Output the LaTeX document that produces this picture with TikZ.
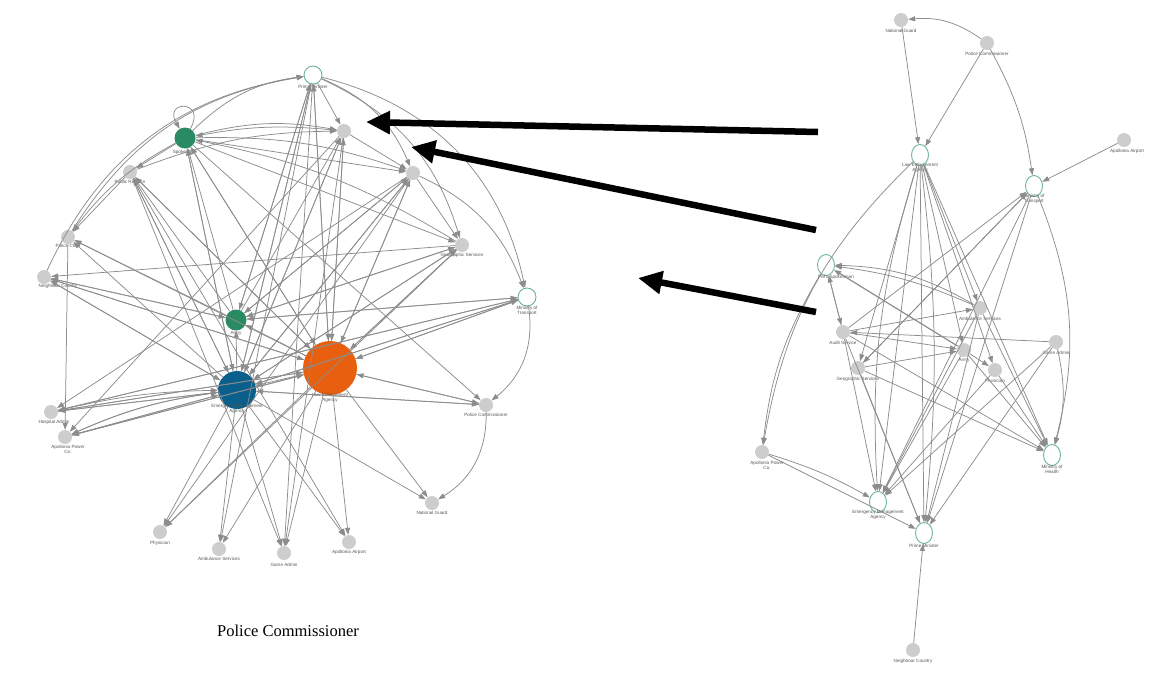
\documentclass[tikz,border=0pt]{standalone}
\usepackage{fontspec}
\setmainfont{Liberation Serif}
\newfontfamily\lblfont{Liberation Sans}
\usetikzlibrary{arrows.meta,shapes.geometric}
\definecolor{nodegray}{HTML}{CDCDCD}
\definecolor{edgegray}{HTML}{8C8C8C}
\definecolor{ringgreen}{HTML}{6DB49B}
\definecolor{hubgreen}{HTML}{2A8A63}
\definecolor{huborange}{HTML}{E8600F}
\definecolor{hubblue}{HTML}{0B5F8C}
\definecolor{labelgray}{HTML}{555555}
\begin{document}
\begin{tikzpicture}[x=1pt,y=-1pt,
  lbl/.style={font=\lblfont\fontsize{4.6}{5}\selectfont,text=labelgray,inner sep=0.6pt,align=center},
  gn/.style={circle,fill=nodegray,draw=none,minimum size=14pt,inner sep=0pt},
  wn/.style={circle,draw=ringgreen,fill=white,line width=0.9pt,minimum size=18pt,inner sep=0pt},
  we/.style={ellipse,draw=ringgreen,fill=white,line width=0.9pt,minimum width=17pt,minimum height=21pt,inner sep=0pt},
  e/.style={draw=edgegray,line width=0.75pt,-{Triangle[length=7pt,width=5pt,fill=edgegray]}},
  bigarrow/.style={draw=black,line width=6.5pt,-{Triangle[length=24pt,width=22pt]}},
  title/.style={font=\fontsize{16.5}{19}\selectfont,text=black}]
\useasboundingbox (0,0) rectangle (1154,673);

% ---------------- left graph nodes ----------------
\node[wn] (pm) at (313,75) {};
\node[lbl,anchor=north] (pmL) at (313,84) {Prime Minister};
\node[circle,fill=hubgreen,minimum size=21pt,inner sep=0pt] (ga) at (185,138) {};
\node[lbl,anchor=north] (gaL) at (185,149) {Spokesman};
\node[gn] (c3) at (344,131) {};
\node[gn] (rs) at (130,172) {};
\node[lbl,anchor=north] (rsL) at (130,179) {Public Relation};
\node[gn] (c5) at (413,173) {};
\node[gn] (gs) at (462,245) {};
\node[lbl,anchor=north] (gsL) at (462,252) {Geographic Services};
\node[wn] (mt) at (527,297) {};
\node[lbl,anchor=north] (mtL) at (527,305) {Ministry of\\Transport};
\node[gn] (pc1) at (68,237) {};
\node[lbl,anchor=north] (pc1L) at (68,243) {Police Chief};
\node[gn] (nc) at (44,277) {};
\node[lbl,anchor=north] (ncL) at (58,283) {Neighbour Country};
\node[circle,fill=hubgreen,minimum size=21pt,inner sep=0pt] (ar) at (236,320) {};
\node[lbl,anchor=north] (arL) at (236,331) {Army};
\node[circle,fill=huborange,minimum size=54pt,inner sep=0pt] (le) at (330,368) {};
\node[lbl,anchor=north] (leL) at (330,392) {Law Enforcement\\Agency};
\node[circle,fill=hubblue,minimum size=38pt,inner sep=0pt] (em) at (237,390) {};
\node[lbl,anchor=north] (emL) at (237,404) {Emergency Management\\Agency};
\node[gn] (pco) at (486,405) {};
\node[lbl,anchor=north] (pcoL) at (486,412) {Police Commissioner};
\node[gn] (ha) at (51,412) {};
\node[lbl,anchor=north] (haL) at (54,419) {Hospital Admin};
\node[gn] (ap) at (65,437) {};
\node[lbl,anchor=north] (apL) at (68,444) {Apollonia Power\\Co.};
\node[gn] (ng) at (432,503) {};
\node[lbl,anchor=north] (ngL) at (432,510) {National Guard};
\node[gn] (ph) at (160,532) {};
\node[lbl,anchor=north] (phL) at (160,540) {Physician};
\node[gn] (as) at (219,549) {};
\node[lbl,anchor=north] (asL) at (219,556) {Ambulance Services};
\node[gn] (gm) at (284,553) {};
\node[lbl,anchor=north] (gmL) at (284,562) {Game Admin};
\node[gn] (aa) at (349,542) {};
\node[lbl,anchor=north] (aaL) at (349,549) {Apollonia Airport};

% ---------------- left graph edges ----------------
\foreach \a/\b in {le/pm,le/ga,le/c3,le/rs,le/c5,le/gs,le/mt,le/pc1,le/nc,le/ar,le/em,le/pco,le/ha,le/ap,le/ng,le/ph,le/as,le/gm,le/aa,
  em/pm,em/ga,em/c3,em/rs,em/c5,em/gs,em/mt,em/pc1,em/nc,em/ar,em/pco,em/ha,em/ap,em/ng,em/ph,em/as,em/gm,em/aa,
  ar/pm,ar/ga,ar/c3,ar/c5,ar/gs,ar/mt,ar/nc,ar/pc1,ar/rs,
  ga/c5,ga/rs,ga/le,ga/em,ga/gs,ga/pco,
  pm/c3,pm/le,pm/em,pm/ar,pm/as,pm/gm,
  nc/le,nc/em,nc/ar,
  rs/pc1,rs/le,rs/em,rs/gm,rs/aa,
  mt/le,mt/em,mt/ar,mt/ha,
  gs/le,gs/em,gs/ar,gs/nc,gs/ph,
  c5/gs,c5/le,c5/em,c5/ar,c5/ha,c5/ph,
  c3/c5,c3/le,c3/em,c3/gm,c3/ap,
  pco/le,pco/em,ha/le,ha/em,ha/mt,ap/em,ap/le,pc1/ap}
  \draw[e] (\a) -- (\b);
\foreach \a/\b/\c in {ga/pm/-18,nc/pm/-28,pc1/pm/-24,ga/c3/-12,c5/mt/-22,pm/c5/-22,pm/mt/-32,pm/gs/-24,
  mt/pco/-30,pco/ng/-30,rs/c3/-10,c3/ga/8,gs/ga/10,ga/pc1/12,ha/em/-6,ap/em/-8,em/ap/8,ga/c5/-10}
  \draw[e] (\a) to[bend right=\c] (\b);
\draw[e] (ga) to[out=60,in=120,looseness=8] (ga);

% ---------------- right graph nodes ----------------
\node[gn] (ng2) at (901,20) {};
\node[lbl,anchor=north] (ng2L) at (901,28) {National Guard};
\node[gn] (pc2) at (987,43) {};
\node[lbl,anchor=north] (pc2L) at (987,51) {Police Commissioner};
\node[we] (le2) at (920,155) {};
\node[lbl,anchor=north] (le2L) at (920,162) {Law Enforcement\\Agency};
\node[gn] (aa2) at (1124,140) {};
\node[lbl,anchor=north] (aa2L) at (1127,148) {Apollonia Airport};
\node[we] (mt2) at (1034,186) {};
\node[lbl,anchor=north] (mt2L) at (1034,193) {Ministry of\\Transport};
\node[we] (pms) at (826,265) {};
\node[lbl,anchor=north] (pmsL) at (836,274) {PM's Spokesman};
\node[gn] (as2) at (980,308) {};
\node[lbl,anchor=north] (as2L) at (980,316) {Ambulance Services};
\node[gn] (aud) at (843,332) {};
\node[lbl,anchor=north] (audL) at (843,340) {Audit Service};
\node[gn] (army2) at (964,350) {};
\node[lbl,anchor=north] (army2L) at (964,358) {Army};
\node[gn] (gm2) at (1056,342) {};
\node[lbl,anchor=north] (gm2L) at (1056,350) {Game Admin};
\node[gn] (gs2) at (858,368) {};
\node[lbl,anchor=north] (gs2L) at (858,376) {Geographic Services};
\node[gn] (phy2) at (995,370) {};
\node[lbl,anchor=north] (phy2L) at (995,378) {Physician};
\node[gn] (ap2) at (762,452) {};
\node[lbl,anchor=north] (ap2L) at (767,460) {Apollonia Power\\Co.};
\node[we] (em2) at (878,502) {};
\node[lbl,anchor=north] (em2L) at (878,510) {Emergency Management\\Agency};
\node[we] (mh2) at (1052,455) {};
\node[lbl,anchor=north] (mh2L) at (1052,464) {Ministry of\\Health};
\node[we] (pm2) at (924,533) {};
\node[lbl,anchor=north] (pm2L) at (924,543) {Prime Minister};
\node[gn] (nc2) at (913,650) {};
\node[lbl,anchor=north] (nc2L) at (913,658) {Neighbour Country};

% ---------------- right graph edges ----------------
\foreach \a/\b in {ng2/le2,pc2/le2,aa2/mt2,le2/em2,le2/pm2,le2/mh2,le2/gs2,le2/as2,le2/army2,le2/phy2,
  aud/as2,aud/army2,aud/mh2,aud/em2,aud/pm2,aud/mt2,aud/pms,
  gs2/army2,gs2/mh2,gs2/pm2,gs2/mt2,
  as2/mh2,as2/pm2,as2/em2,
  army2/phy2,army2/mh2,army2/em2,
  phy2/mh2,phy2/em2,gm2/pm2,gm2/em2,gm2/aud,
  mt2/em2,mt2/pm2,mt2/gs2,ap2/pm2,nc2/pm2,pms/aud}
  \draw[e] (\a) -- (\b);
\draw[e,line width=1.2pt] (army2) -- (pms);
\foreach \a/\b/\c in {pc2/ng2/20,pc2/mt2/-10,as2/pms/8,as2/pms/14,pms/ap2/12,le2/ap2/18,
  mt2/mh2/-18,le2/em2/10,gm2/mh2/-14,ap2/em2/-6,le2/pm2/-6}
  \draw[e] (\a) to[bend right=\c] (\b);

% ---------------- black arrows ----------------
\coordinate (s1) at (818,132);
\coordinate (t1) at (366,122);
\coordinate (s2) at (816,230);
\coordinate (t2) at (411,147);
\coordinate (s3) at (816,312);
\coordinate (t3) at (638,278);
\draw[bigarrow] (s1) -- (t1);
\draw[bigarrow] (s2) -- (t2);
\draw[bigarrow] (s3) -- (t3);

% ---------------- caption ----------------
\node[title] (cap) at (288,631) {Police Commissioner};
\end{tikzpicture}
\end{document}
